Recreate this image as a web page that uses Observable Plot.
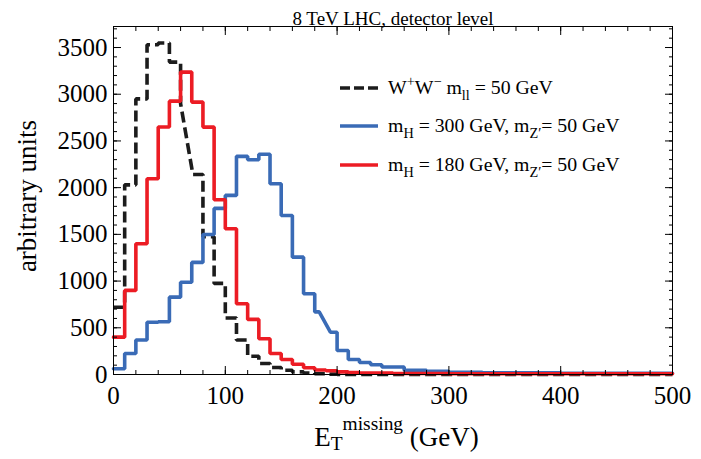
<!DOCTYPE html>
<html><head><meta charset="utf-8">
<script src="https://cdn.jsdelivr.net/npm/d3@7"></script>
<script src="https://cdn.jsdelivr.net/npm/@observablehq/plot@0.6"></script>
<style>body{margin:0;background:#fff;} #chart{width:701px;height:459px;}</style>
</head><body><div id="chart"></div>
<script>
// ---- data (vertices of the histogram outlines, x in GeV, y in arbitrary units) ----
const wwX = [0,10,10,20,20,30,30,40,40,50,50,60,60,71,80,80,90,90,100,100,110,110,120,120,130,130,140,140,150,150,160,160,170,170,180,180,190,190,200,200,500];
const wwY = [720,720,2030,2030,2950,2950,3530,3530,3548,3548,3344,3344,2900,2141,2141,1475,1475,975,975,605,605,370,370,195,195,118,118,75,75,45,45,28,28,15,15,8,8,4,4,1,1];

const h300X = [0,10,10,20,20,30,30,40,40,50,50,60,60,70,70,80,80,90,90,100,100,110,110,120,120,130,130,140,140,150,150,160,160,170,170,180,180,184,194,200,200,210,210,220,220,230,230,240,240,260,260,280,280,300,300,330,330,400,400,500];
const h300Y = [62,62,225,225,370,370,560,560,565,565,828,828,988,988,1200,1200,1499,1499,1778,1778,1917,1917,2335,2335,2299,2299,2358,2358,2041,2041,1702,1702,1256,1256,864,864,670,670,453,453,257,257,160,160,128,128,105,105,80,80,45,45,33,33,24,24,18,18,14,14];

const h180X = [0,10,10,20,20,30,30,40,40,50,50,60,60,70,70,80,80,90,90,100,100,110,110,120,120,130,130,140,140,150,150,160,160,170,170,180,180,190,190,200,200,210,210,220,220,250,250,300,300,500];
const h180Y = [400,400,900,900,1399,1399,2095,2095,2650,2650,2926,2926,3237,3237,2916,2916,2648,2648,1870,1870,1560,1560,757,757,590,590,382,382,225,225,160,160,110,110,72,72,48,48,40,40,28,28,22,22,15,15,10,10,8,8];

const xMajor = [0,100,200,300,400,500];
const xMinor = d3.range(0, 501, 20);
const yMajor = [0,500,1000,1500,2000,2500,3000,3500];
const yMinor = d3.range(0, 3701, 100);

const title = "8 TeV LHC, detector level";
const yLabel = "arbitrary units";
const seriesColors = ["#1c1c1c", "#3a6bb6", "#ec1c24"];
const legendLabels = [
  [["W",""],["+","sup"],["W",""],["\u2212","sup"],[" m",""],["ll","sub"],[" = 50 GeV",""]],
  [["m",""],["H","sub"],[" = 300 GeV, m",""],["Z\u2032","sub"],["= 50 GeV",""]],
  [["m",""],["H","sub"],[" = 180 GeV, m",""],["Z\u2032","sub"],["= 50 GeV",""]]
];
const xLabel = [["E",""],["T","sub"],["missing","sup2"],[" (GeV)",""]];

// ---- build ----
const pts = (xs, ys) => xs.map((x, i) => ({x, y: ys[i]}));
const ww = pts(wwX, wwY), h300 = pts(h300X, h300Y), h180 = pts(h180X, h180Y);
const FONT = "'Liberation Serif','Times New Roman',serif";
const W = 701, H = 459, mL = 113, mR = 29, mT = 26, mB = 85;
const fmt = d => String(d);

const svg = Plot.plot({
  width: W, height: H, marginLeft: mL, marginRight: mR, marginTop: mT, marginBottom: mB,
  style: {fontFamily: FONT, background: "#fff", color: "#000", overflow: "visible"},
  x: {domain: [0, 500]},
  y: {domain: [0, 3725]},
  marks: [
    Plot.line(ww, {x: "x", y: "y", stroke: seriesColors[0], strokeWidth: 3.6, strokeDasharray: "11,5", strokeLinejoin: "miter", strokeLinecap: "butt"}),
    Plot.line(h300, {x: "x", y: "y", stroke: seriesColors[1], strokeWidth: 3.6, strokeLinejoin: "miter"}),
    Plot.line(h180, {x: "x", y: "y", stroke: seriesColors[2], strokeWidth: 3.6, strokeLinejoin: "miter"}),
    Plot.frame({stroke: "#000", strokeWidth: 1}),
    Plot.axisX({ticks: xMinor, tickSize: -4, text: null, label: null}),
    Plot.axisX({ticks: xMajor, tickSize: -8, text: null, label: null}),
    Plot.axisX({anchor: "top", ticks: xMinor, tickSize: -4, text: null, label: null}),
    Plot.axisX({anchor: "top", ticks: xMajor, tickSize: -8, text: null, label: null}),
    Plot.axisY({ticks: yMinor, tickSize: -4, text: null, label: null}),
    Plot.axisY({ticks: yMajor, tickSize: -8, text: null, label: null}),
    Plot.axisY({anchor: "right", ticks: yMinor, tickSize: -4, text: null, label: null}),
    Plot.axisY({anchor: "right", ticks: yMajor, tickSize: -8, text: null, label: null}),
    Plot.axisX({ticks: xMajor, tickSize: 0, tickPadding: 12, fontSize: 25, tickFormat: fmt, label: null}),
    Plot.axisY({ticks: yMajor, tickSize: 0, tickPadding: 6, fontSize: 25, tickFormat: fmt, label: null}),
    Plot.text([title], {frameAnchor: "top", dy: -15, fontSize: 19, fill: "#000"})
  ]
});
document.getElementById("chart").appendChild(svg);

const s = d3.select(svg);
function rich(textSel, segs, size, subK = 0.28) {
  let shift = 0;
  for (const [t, kind] of segs) {
    let target = 0, fs = size;
    if (kind === "sub") { target = size * subK; fs = size * 0.72; }
    if (kind === "sup") { target = -size * 0.38; fs = size * 0.72; }
    if (kind === "sup2") { target = -size * 0.6; fs = size * 0.72; }
    textSel.append("tspan").attr("dy", target - shift).attr("font-size", fs).text(t);
    shift = target;
  }
}
// axis labels
const xl = s.append("text").attr("x", (mL + W - mR) / 2 + 4).attr("y", 446)
  .attr("text-anchor", "middle").attr("font-size", 26).attr("font-family", FONT).attr("fill", "#000");
rich(xl, xLabel, 27, 0.16);
s.append("text").attr("transform", `translate(36,${(mT + H - mB) / 2 - 4}) rotate(-90)`)
  .attr("text-anchor", "middle").attr("font-size", 27).attr("font-family", FONT).attr("fill", "#000").text(yLabel);

// legend
const rowY = [88, 126, 165];
legendLabels.forEach((segs, i) => {
  const g = s.append("g");
  g.append("line").attr("x1", 340).attr("x2", 378).attr("y1", rowY[i]).attr("y2", rowY[i])
    .attr("stroke", seriesColors[i]).attr("stroke-width", 3.6)
    .attr("stroke-dasharray", i === 0 ? "10,4" : null);
  const t = g.append("text").attr("x", 388).attr("y", rowY[i] + 6).attr("font-size", 19.8)
    .attr("text-anchor", "start")
    .attr("font-family", FONT).attr("fill", "#000");
  rich(t, segs, 19.8);
});
</script></body></html>
